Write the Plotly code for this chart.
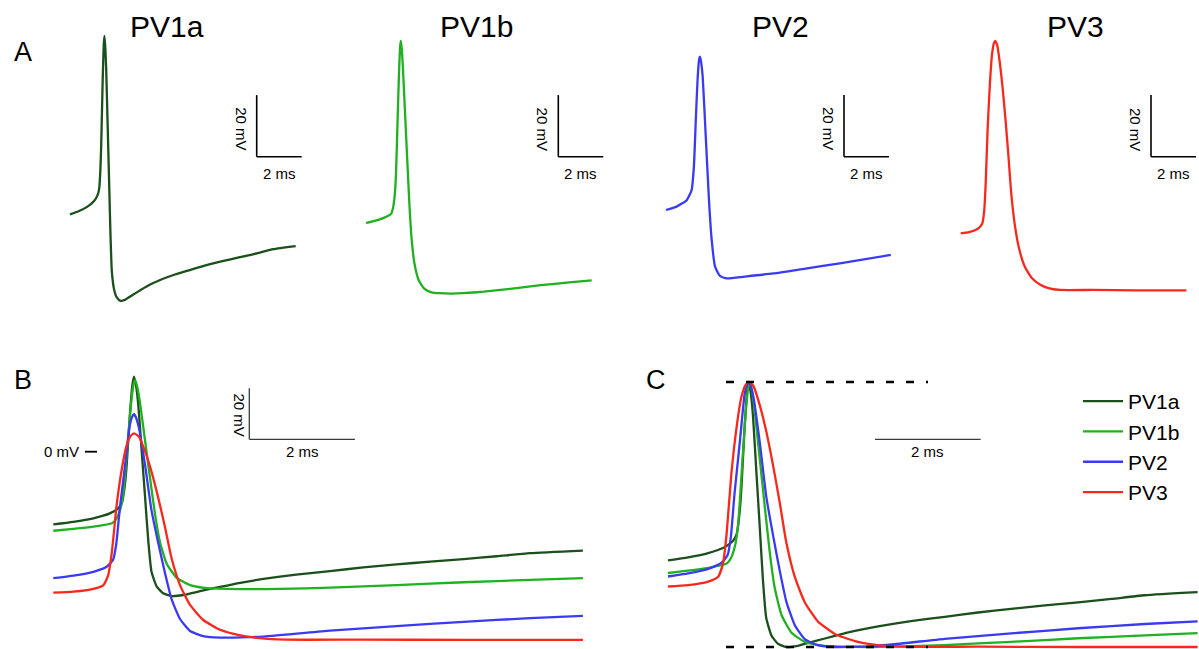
import plotly.graph_objects as go

W, H = 1199, 649
FONT = "Liberation Sans, Arial, Helvetica, sans-serif"

# ---- action potential waveforms: time (ms), membrane potential (mV) ----
t_pv1a = [0, 0.38, 0.76, 1.07, 1.23, 1.30, 1.35, 1.39, 1.45, 1.50, 1.53, 1.57, 1.61, 1.67,
          1.74, 1.80, 1.86, 1.96, 2.08, 2.24, 2.46, 2.78, 3.16, 3.54, 3.98, 4.60, 5.24, 5.87,
          6.50, 7.14, 7.77, 8.40, 9.03, 10.03]
v_pv1a = [-28.5, -27.5, -26.1, -24.2, -22.2, -20.0, -14.0, -5.2, 14.4, 26.5, 29.4, 25.5, 18.3, 1.3,
          -18.3, -35.3, -47.1, -52.9, -55.5, -56.6, -56.2, -54.7, -53.0, -51.4, -49.9, -48.2, -46.8, -45.4,
          -44.2, -43.1, -42.1, -41.0, -39.8, -38.8]

t_pv1b = [0, 0.38, 0.76, 1.11, 1.20, 1.27, 1.33, 1.40, 1.47, 1.52, 1.55, 1.59, 1.64, 1.74,
          1.83, 1.93, 2.02, 2.15, 2.34, 2.59, 2.91, 3.28, 3.80, 4.29, 5.24, 6.50, 7.77, 9.03, 10.03]
v_pv1b = [-31.0, -30.3, -29.4, -28.1, -26.1, -22.5, -15.7, 1.3, 18.3, 26.5, 28.1, 25.5, 19.5, 4.0,
          -10.0, -25.0, -35.5, -44.0, -49.5, -52.3, -53.5, -53.8, -53.9, -53.8, -53.3, -52.3, -51.2, -50.3, -49.6]

t_pv2 = [0, 0.38, 0.76, 1.01, 1.13, 1.19, 1.26, 1.36, 1.45, 1.50, 1.53, 1.57, 1.62, 1.74,
         1.86, 1.99, 2.12, 2.24, 2.40, 2.59, 2.84, 3.16, 3.98, 5.24, 6.50, 7.77, 9.03, 10.03]
v_pv2 = [-49.6, -48.6, -47.1, -45.1, -42.5, -36.6, -22.2, -5.2, 10.5, 14.0, 14.7, 13.2, 9.5, -5.5,
         -23.0, -36.0, -48.0, -57.8, -65.6, -70.3, -72.3, -72.9, -72.5, -70.2, -68.4, -66.7, -65.3, -64.4]

t_pv3 = [0, 0.38, 0.76, 0.95, 1.04, 1.11, 1.20, 1.30, 1.39, 1.47, 1.53, 1.62, 1.74, 1.86,
         1.99, 2.12, 2.24, 2.40, 2.59, 2.84, 3.16, 3.54, 3.90, 4.40, 5.87, 7.77, 10.03]
v_pv3 = [-55.3, -54.9, -53.8, -52.3, -48.4, -39.2, -20.9, -6.5, 2.6, 6.3, 7.2, 5.9, 0.0, -7.8,
         -18.3, -30.0, -41.8, -52.3, -60.1, -66.0, -69.8, -72.0, -73.1, -73.7, -73.7, -73.8, -73.8]

# single example PV2 cell shown on its own (panel A)
t_pv2_cell = [0, 0.47, 0.92, 1.14, 1.24, 1.33, 1.41, 1.47, 1.51, 1.56, 1.63, 1.76, 1.91, 2.03,
              2.18, 2.40, 2.70, 3.50, 4.77, 6.20, 7.73, 9.99]
v_pv2_cell = [-49.6, -48.5, -46.4, -43.1, -35.5, -19.3, -6.3, -0.8, 0.2, -1.5, -6.3, -24.7, -46.4, -59.3,
              -68.0, -71.0, -71.8, -71.2, -70.2, -68.6, -66.9, -64.2]

names = ["PV1a", "PV1b", "PV2", "PV3"]
colors = ["#1b4f1b", "#20b020", "#3a3af2", "#f7281c"]
traces_t = [t_pv1a, t_pv1b, t_pv2, t_pv3]
traces_v = [v_pv1a, v_pv1b, v_pv2, v_pv3]
LW = 2.3


def x_axis(px_left, px_right, px_origin, px_per_ms):
    return dict(domain=[px_left / W, px_right / W],
                range=[(px_left - px_origin) / px_per_ms, (px_right - px_origin) / px_per_ms],
                visible=False, fixedrange=True)


def y_axis(py_top, py_bottom, py_ref, v_ref, px_per_unit):
    return dict(domain=[1 - py_bottom / H, 1 - py_top / H],
                range=[v_ref - (py_bottom - py_ref) / px_per_unit, v_ref + (py_ref - py_top) / px_per_unit],
                visible=False, fixedrange=True)


def trace_line(col):
    return dict(color=col, width=LW, shape="spline", smoothing=0.5)


fig = go.Figure()
layout = dict(width=W, height=H, margin=dict(l=0, r=0, t=0, b=0),
              paper_bgcolor="white", plot_bgcolor="rgba(0,0,0,0)",
              font=dict(family=FONT, color="black"))
shapes, annotations = [], []

# ---- panel A: one cell per column ----
A_MS, A_MV = 22.5, 3.08
a_panels = [
    # name, t, v, x-domain px, t=0 px, first-sample y px, scale-bar corner px, title x px
    ("PV1a", t_pv1a, v_pv1a, (55, 335), 70.0, 214.3, (256.7, 156.7), 167),
    ("PV1b", t_pv1b, v_pv1b, (345, 640), 366.0, 223.0, (558.3, 156.7), 476),
    ("PV2", t_pv2_cell, v_pv2_cell, (650, 935), 666.0, 210.0, (844.0, 156.7), 780),
    ("PV3", t_pv3, v_pv3, (940, 1199), 960.7, 233.3, (1151.0, 156.7), 1075),
]
for i, (name, tt, vv, (xl, xr), x0, y0, (bx, by), title_x) in enumerate(a_panels):
    k = i + 1
    xa = x_axis(xl, xr, x0, A_MS)
    ya = y_axis(10, 320, y0, vv[0], A_MV)
    xa["anchor"] = f"y{k}"
    ya["anchor"] = f"x{k}"
    layout[f"xaxis{k}" if k > 1 else "xaxis"] = xa
    layout[f"yaxis{k}" if k > 1 else "yaxis"] = ya
    fig.add_trace(go.Scatter(x=tt, y=vv, mode="lines", showlegend=False,
                             line=trace_line(colors[names.index(name)]),
                             xaxis=f"x{k}", yaxis=f"y{k}", hoverinfo="skip"))
    # scale bar: 2 ms x 20 mV
    ct = (bx - x0) / A_MS
    cv = vv[0] - (by - y0) / A_MV
    xr_, yr_ = f"x{k}", f"y{k}"
    shapes.append(dict(type="line", xref=xr_, yref=yr_, x0=ct, x1=ct, y0=cv, y1=cv + 20,
                       line=dict(color="black", width=1.6)))
    shapes.append(dict(type="line", xref=xr_, yref=yr_, x0=ct, x1=ct + 2, y0=cv, y1=cv,
                       line=dict(color="black", width=1.6)))
    annotations.append(dict(xref=xr_, yref=yr_, x=ct + 1, y=cv, text="2 ms", showarrow=False,
                            xanchor="center", yanchor="top", yshift=-6, font=dict(size=15)))
    annotations.append(dict(xref=xr_, yref=yr_, x=ct, y=cv + 10, text="20 mV", showarrow=False,
                            textangle=90, xanchor="center", yanchor="middle", xshift=-16, yshift=-3,
                            font=dict(size=15)))
    annotations.append(dict(xref="paper", yref="paper", x=title_x / W, y=1 - 26 / H, text=name,
                            showarrow=False, xanchor="center", yanchor="middle", font=dict(size=30)))

# ---- panel B: overlay in absolute mV ----
B_MS, B_MV = 52.8, 2.55
layout["xaxis5"] = dict(x_axis(40, 600, 53.3, B_MS), anchor="y5")
layout["yaxis5"] = dict(y_axis(355, 649, 451.7, 0.0, B_MV), anchor="x5")
for name, col, tt, vv in zip(names, colors, traces_t, traces_v):
    fig.add_trace(go.Scatter(x=tt, y=vv, mode="lines", showlegend=False, line=trace_line(col),
                             xaxis="x5", yaxis="y5", hoverinfo="skip"))
bct = (249.3 - 53.3) / B_MS
bcv = (451.7 - 439.3) / B_MV
shapes += [
    dict(type="line", xref="x5", yref="y5", x0=bct, x1=bct, y0=bcv, y1=bcv + 20,
         line=dict(color="#3a3a3a", width=1.3)),
    dict(type="line", xref="x5", yref="y5", x0=bct, x1=bct + 2, y0=bcv, y1=bcv,
         line=dict(color="#3a3a3a", width=1.3)),
    # 0 mV reference tick
    dict(type="line", xref="x5", yref="y5", x0=(85 - 53.3) / B_MS, x1=(97 - 53.3) / B_MS, y0=0, y1=0,
         line=dict(color="black", width=1.8)),
]
annotations += [
    dict(xref="x5", yref="y5", x=bct + 1, y=bcv, text="2 ms", showarrow=False,
         xanchor="center", yanchor="top", yshift=-2, font=dict(size=15)),
    dict(xref="x5", yref="y5", x=bct, y=bcv + 10, text="20 mV", showarrow=False, textangle=90,
         xanchor="center", yanchor="middle", xshift=-10, yshift=-1, font=dict(size=15)),
    dict(xref="x5", yref="y5", x=(81 - 53.3) / B_MS, y=0, text="0 mV", showarrow=False,
         xanchor="right", yanchor="middle", font=dict(size=15)),
]

# ---- panel C: each waveform scaled between its trough and its peak ----
C_MS, C_SPAN = 52.8, 265.0
layout["xaxis6"] = dict(x_axis(655, 1199, 668.0, C_MS), anchor="y6")
layout["yaxis6"] = dict(y_axis(355, 649, 647.0, 0.0, C_SPAN), anchor="x6")
for name, col, tt, vv in zip(names, colors, traces_t, traces_v):
    lo, hi = min(vv), max(vv)
    norm = [(v - lo) / (hi - lo) for v in vv]
    fig.add_trace(go.Scatter(x=tt, y=norm, mode="lines", name=name, showlegend=True,
                             line=trace_line(col), xaxis="x6", yaxis="y6", hoverinfo="skip"))
dash_t0, dash_t1 = (726 - 668.0) / C_MS, (928 - 668.0) / C_MS
for level in (0.0, 1.0):
    shapes.append(dict(type="line", xref="x6", yref="y6", x0=dash_t0, x1=dash_t1, y0=level, y1=level,
                       line=dict(color="black", width=2.5, dash="8px,12px")))
cct = (875 - 668.0) / C_MS
ccv = (647 - 439.3) / C_SPAN
shapes.append(dict(type="line", xref="x6", yref="y6", x0=cct, x1=cct + 2, y0=ccv, y1=ccv,
                   line=dict(color="#3a3a3a", width=1.3)))
annotations.append(dict(xref="x6", yref="y6", x=cct + 1, y=ccv, text="2 ms", showarrow=False,
                        xanchor="center", yanchor="top", yshift=-2, font=dict(size=15)))

# panel letters
for letter, lx, ly in (("A", 22.5, 52), ("B", 23, 380), ("C", 655.5, 380)):
    annotations.append(dict(xref="paper", yref="paper", x=lx / W, y=1 - ly / H, text=letter,
                            showarrow=False, xanchor="center", yanchor="middle", font=dict(size=27)))

layout.update(shapes=shapes, annotations=annotations,
              legend=dict(x=1078 / W, y=1 - 381 / H, xanchor="left", yanchor="top",
                          font=dict(size=21), bgcolor="rgba(0,0,0,0)", borderwidth=0,
                          tracegroupgap=0, itemwidth=40))
fig.update_layout(**layout)
fig.write_html("out.html")
